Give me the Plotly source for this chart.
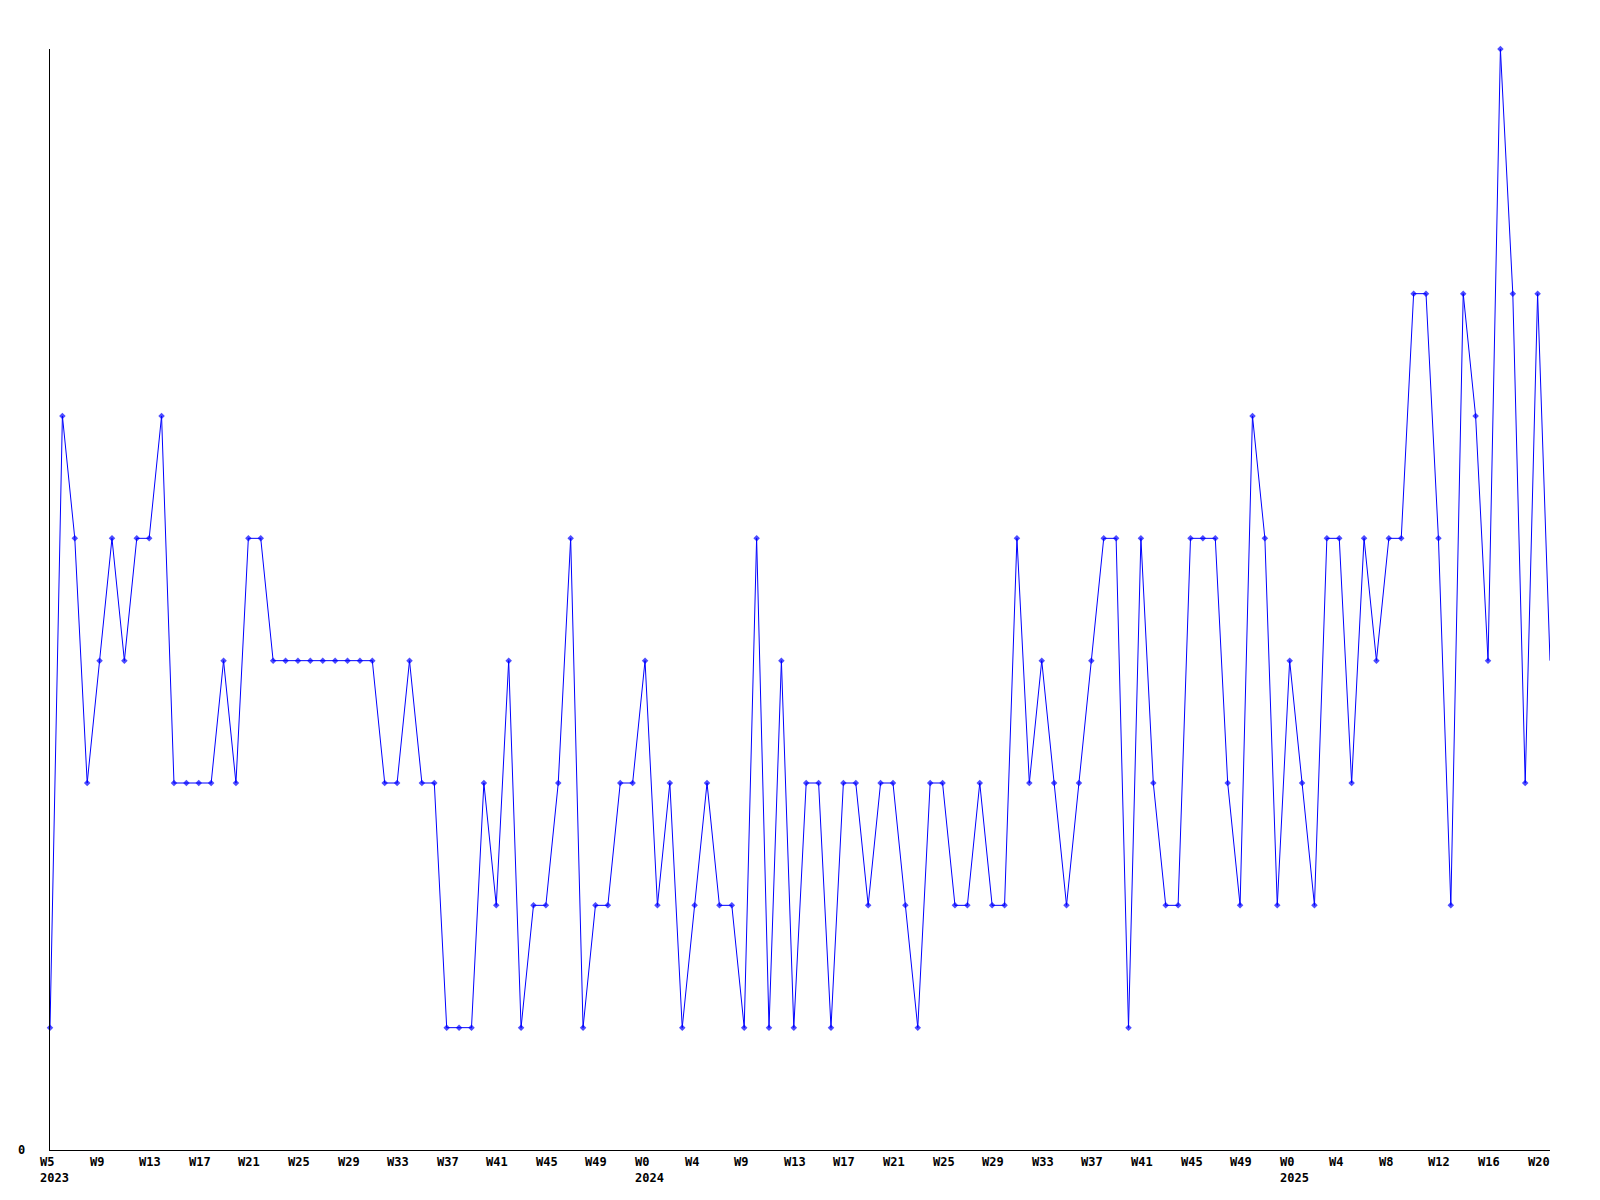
import plotly.graph_objects as go
import pandas as pd

# Weekly values
values = [
    1, 6, 5, 3, 4, 5, 4, 5, 5, 6,
    3, 3, 3, 3, 4, 3, 5, 5, 4, 4,
    4, 4, 4, 4, 4, 4, 4, 3, 3, 4,
    3, 3, 1, 1, 1, 3, 2, 4, 1, 2,
    2, 3, 5, 1, 2, 2, 3, 3, 4, 2,
    3, 1, 2, 3, 2, 2, 1, 5, 1, 4,
    1, 3, 3, 1, 3, 3, 2, 3, 3, 2,
    1, 3, 3, 2, 2, 3, 2, 2, 5, 3,
    4, 3, 2, 3, 4, 5, 5, 1, 5, 3,
    2, 2, 5, 5, 5, 3, 2, 6, 5, 2,
    4, 3, 2, 5, 5, 3, 5, 4, 5, 5,
    7, 7, 5, 2, 7, 6, 4, 9, 7, 3,
    7, 4,
]
start_week = "2023-01-30"
dates = pd.date_range(start_week, periods=len(values), freq="7D")

week_labels = ["W5", "W9", "W13", "W17", "W21", "W25", "W29", "W33", "W37", "W41",
               "W45", "W49", "W0", "W4", "W9", "W13", "W17", "W21", "W25", "W29",
               "W33", "W37", "W41", "W45", "W49", "W0", "W4", "W8", "W12", "W16", "W20"]
tick_step = 4
year_label_pos = [0, 12, 25]
year_labels = ["2023", "2024", "2025"]
y_max = 9

FONT = dict(family="DejaVu Sans Mono", size=12, color="#000000", weight="bold")

marker_sizes = [5] * (len(values) - 1) + [0]

fig = go.Figure()
fig.add_trace(go.Scatter(
    x=dates, y=values, mode="lines+markers",
    line=dict(color="#0000ff", width=1),
    marker=dict(symbol="diamond", size=marker_sizes, color="#0000ff", line=dict(width=0)),
    cliponaxis=False, hoverinfo="x+y",
))

annotations = []
for k, lab in enumerate(week_labels):
    text = lab
    if k in year_label_pos:
        text += "<br>" + year_labels[year_label_pos.index(k)]
    annotations.append(dict(
        x=dates[k * tick_step], xref="x", y=0, yref="paper",
        text=text, showarrow=False, xanchor="left", yanchor="top",
        align="left", xshift=-12, yshift=-3, font=FONT,
    ))
annotations.append(dict(
    x=0, xref="paper", y=0, yref="y", text="0", showarrow=False,
    xanchor="right", yanchor="middle", xshift=-23, font=FONT,
))

fig.update_layout(
    width=1600, height=1200,
    margin=dict(l=50, r=50, t=49, b=50, pad=0),
    paper_bgcolor="#ffffff", plot_bgcolor="#ffffff",
    showlegend=False,
    font=FONT,
    annotations=annotations,
    xaxis=dict(range=[dates[0], dates[-1]], showline=True, linecolor="#000000", linewidth=1,
               showgrid=False, zeroline=False, showticklabels=False, ticks=""),
    yaxis=dict(range=[0, y_max], showline=True, linecolor="#000000", linewidth=1,
               showgrid=False, zeroline=False, showticklabels=False, ticks=""),
)

fig.write_html("out.html", config={"displayModeBar": False},
               post_script="document.body.style.margin='0';")
